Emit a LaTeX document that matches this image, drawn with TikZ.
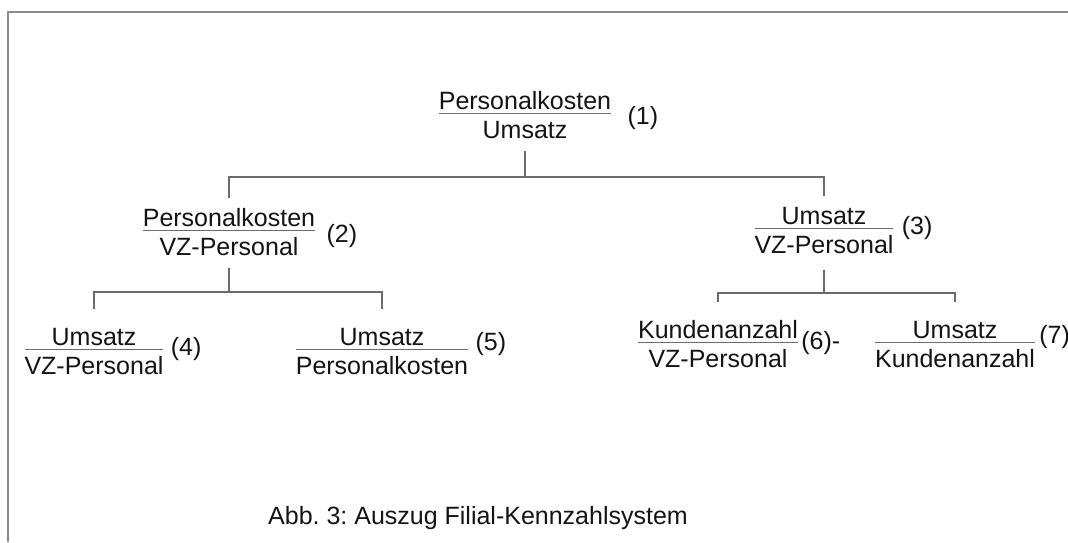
\documentclass[tikz,border=0pt]{standalone}
\usepackage{fontspec}
\setmainfont{Liberation Sans}
\usepackage{xcolor}
\usetikzlibrary{positioning}
\definecolor{rulegray}{gray}{0.42}
\definecolor{inkgray}{gray}{0.08}
\frenchspacing
% ratio: numerator over denominator with a thin gray bar
\newcommand{\kz}[2]{{\color{rulegray}\begin{tabular}{@{}c@{}}\color{inkgray}#1\\[-2pt]\hline
  \rule{0pt}{12pt}\color{inkgray}#2\end{tabular}}}

\begin{document}
\begin{tikzpicture}[
  x=0.5pt, y=-0.5pt,
  ratio/.style={inner sep=0pt, outer sep=0pt, font=\fontsize{12.5}{14}\selectfont},
  tag/.style={inner sep=0pt, font=\fontsize{12.5}{14}\selectfont, text=inkgray},
  link/.style={draw=rulegray, line width=0.7pt},
  frame/.style={draw=black!45, line width=1pt}
]
\useasboundingbox[fill=white] (0,0) rectangle (1068,542);
\draw[frame] (1068,12) -- (8,12) -- (8,542);

% top level
\node[ratio] (k1) at (525,118) {\kz{Personalkosten}{Umsatz}};
\node[tag, right=8pt of k1] (t1) {(1)};
% second level
\node[ratio] (k2) at (229,235) {\kz{Personalkosten}{VZ-Personal}};
\node[tag, right=5.5pt of k2, yshift=-0.7pt] (t2) {(2)};
\node[ratio] (k3) at (824,233) {\kz{Umsatz}{VZ-Personal}};
\node[tag, right=4pt of k3, yshift=2.3pt] (t3) {(3)};
% third level
\node[ratio] (k4) at (94,354) {\kz{Umsatz}{VZ-Personal}};
\node[tag, right=3.5pt of k4, yshift=2.3pt] (t4) {(4)};
\node[ratio] (k5) at (382,354) {\kz{Umsatz}{Personalkosten}};
\node[tag, right=3.5pt of k5, yshift=4.8pt] (t5) {(5)};
\node[ratio] (k6) at (718,347) {\kz{Kundenanzahl}{VZ-Personal}};
\node[tag, right=1.5pt of k6, yshift=1.8pt] (t6) {(6)-};
\node[ratio] (k7) at (955,347) {\kz{Umsatz}{Kundenanzahl}};
\node[tag, right=2pt of k7, yshift=4.8pt] (t7) {(7)};

\node[tag] (caption) at (478,518) {Abb. 3: Auszug Filial-Kennzahlsystem};

% tree lines
\coordinate (bar1) at (525,177);
\coordinate (bar2) at (229,292);
\coordinate (bar3) at (824,293);
\draw[link, shorten <=2pt] (k1.south) -- (k1.south |- bar1);
\draw[link, shorten <=4pt, shorten >=4pt] (k2.north) |- (bar1) -| (k3.north);
\draw[link, shorten <=2pt] (k2.south) -- (k2.south |- bar2);
\draw[link, shorten <=8pt, shorten >=8pt] (k4.north) |- (bar2) -| (k5.north);
\draw[link, shorten <=4pt] (k3.south) -- (k3.south |- bar3);
\draw[link, shorten <=8pt, shorten >=8pt] (k6.north) |- (bar3) -| (k7.north);
\end{tikzpicture}
\end{document}
